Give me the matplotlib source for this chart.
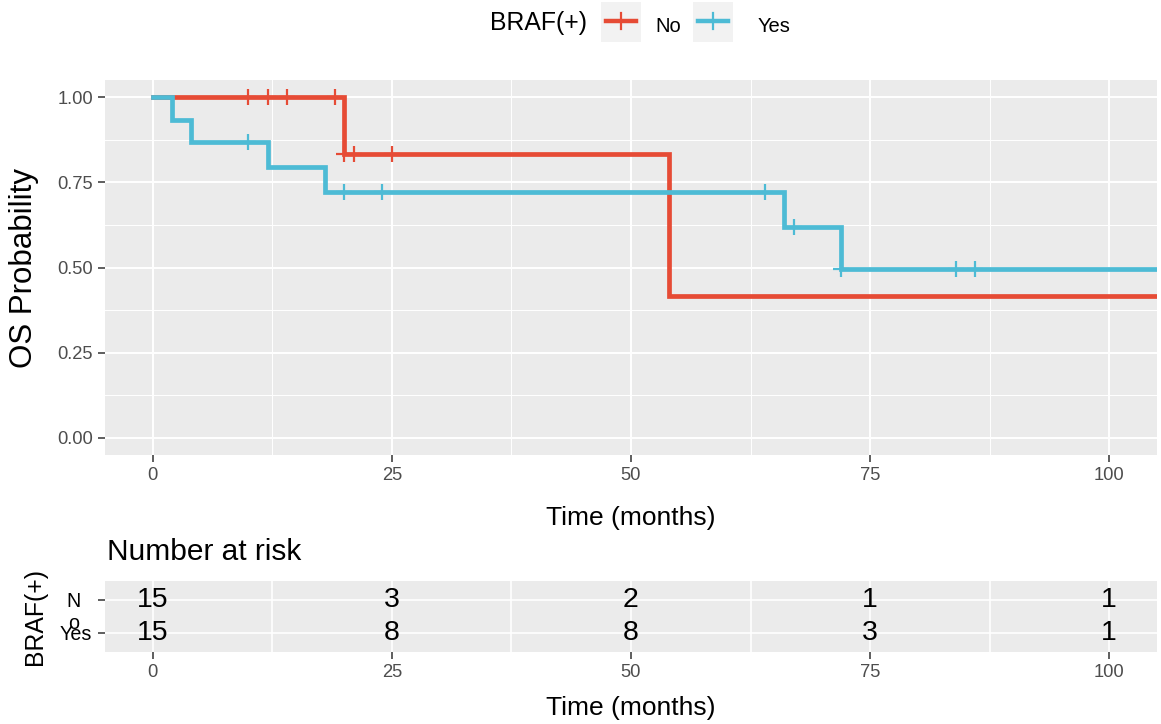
import matplotlib
matplotlib.use("Agg")
import matplotlib.pyplot as plt
from matplotlib.patches import Rectangle
from matplotlib.lines import Line2D

plt.rcParams['font.family'] = ['Liberation Sans', 'DejaVu Sans']

# ---------------- data ----------------
groups = ["No", "Yes"]
colors = ["#E64B35", "#4DBBD5"]

no_time = [0, 20, 54, 105]
no_surv = [1.0, 0.833, 0.417, 0.417]
no_cens_time = [10, 12, 14, 19, 20, 21, 25]
no_cens_surv = [1.0, 1.0, 1.0, 1.0, 0.833, 0.833, 0.833]

yes_time = [0, 2, 4, 12, 18, 66, 72, 105]
yes_surv = [1.0, 0.933, 0.867, 0.794, 0.722, 0.619, 0.495, 0.495]
yes_cens_time = [10, 20, 24, 64, 67, 72, 84, 86]
yes_cens_surv = [0.867, 0.722, 0.722, 0.722, 0.619, 0.495, 0.495, 0.495]

risk_times = [0, 25, 50, 75, 100]
risk_no = [15, 3, 2, 1, 1]
risk_yes = [15, 8, 8, 3, 1]

x_ticks = [0, 25, 50, 75, 100]
x_minor = [12.5, 37.5, 62.5, 87.5]
y_ticks = [0.0, 0.25, 0.5, 0.75, 1.0]
y_tick_labels = ["0.00", "0.25", "0.50", "0.75", "1.00"]
y_minor = [0.125, 0.375, 0.625, 0.875]

# ---------------- figure ----------------
W, H = 1161, 724
fig = plt.figure(figsize=(W / 100, H / 100), dpi=100)

def px_axes(l, t, r, b):
    return fig.add_axes([l / W, 1 - b / H, (r - l) / W, (b - t) / H])

PANEL = "#EBEBEB"
TICKC = "#333333"
LABC = "#4D4D4D"

def style(ax):
    ax.set_facecolor(PANEL)
    for s in ax.spines.values():
        s.set_visible(False)
    ax.tick_params(axis='both', which='major', length=5, width=1.1, color=TICKC,
                   labelcolor=LABC, labelsize=13.2, pad=3.5)
    ax.tick_params(axis='both', which='minor', length=0)
    ax.set_axisbelow(True)

# ---- main KM plot ----
ax = px_axes(105, 80, 1157, 455)
style(ax)
ax.set_xlim(-5, 105)
ax.set_ylim(-0.05, 1.05)
ax.set_xticks(x_ticks)
ax.set_xticks(x_minor, minor=True)
ax.set_yticks(y_ticks)
ax.set_yticklabels(y_tick_labels)
ax.set_yticks(y_minor, minor=True)
ax.grid(True, which='major', color='white', lw=1.4)
ax.grid(True, which='minor', color='white', lw=0.7)

ax.step(no_time, no_surv, where='post', color=colors[0], lw=3.4, solid_joinstyle='miter', zorder=3)
ax.plot(no_cens_time, no_cens_surv, ls='none', marker='+', ms=11, mew=1.6, color=colors[0], zorder=3)
ax.step(yes_time, yes_surv, where='post', color=colors[1], lw=3.4, solid_joinstyle='miter', zorder=4)
ax.plot(yes_cens_time, yes_cens_surv, ls='none', marker='+', ms=11, mew=1.6, color=colors[1], zorder=4)

ax.set_xlabel("Time (months)", fontsize=19, color='black', labelpad=16)
ax.set_ylabel("OS Probability", fontsize=22.5, color='black', labelpad=13)

# ---- risk table ----
rx = px_axes(105, 581, 1157, 652)
style(rx)
rx.set_xlim(-5, 105)
rx.set_ylim(0.4, 2.6)
rx.set_xticks(x_ticks)
rx.set_xticks(x_minor, minor=True)
rx.set_yticks([1, 2])
rx.set_yticklabels(["Yes", ""])
rx.tick_params(axis='y', labelsize=14.2, labelcolor='black', pad=4.5)
rx.grid(True, which='major', color='white', lw=1.2)
rx.grid(True, which='minor', axis='x', color='white', lw=1.2)
rx.annotate("N\no", xy=(-8.3, 2), xycoords='data', xytext=(0, -6.5),
            textcoords='offset points', ha='center', va='center_baseline',
            fontsize=14.2, linespacing=1.15, color='black', annotation_clip=False)
for t, n in zip(risk_times, risk_no):
    rx.text(t, 2, str(n), ha='center', va='center', fontsize=20.5, color='black')
for t, n in zip(risk_times, risk_yes):
    rx.text(t, 1, str(n), ha='center', va='center', fontsize=20.5, color='black')
rx.set_xlabel("Time (months)", fontsize=19, color='black', labelpad=11)
rx.set_ylabel("BRAF(+)", fontsize=17.8, color='black', labelpad=9)
fig.text(107 / W, 1 - 560 / H, "Number at risk", fontsize=21.5, ha='left', va='baseline')

# ---- legend (manual, ggplot style) ----
lg = px_axes(480, 0, 800, 50)
lg.set_xlim(480, 800)
lg.set_ylim(50, 0)
lg.axis('off')
lg.text(490, 23, "BRAF(+)", fontsize=17.8, ha='left', va='center')
key_left = [601, 693]
text_left = [655, 758]
for g, c, kl, tl in zip(groups, colors, key_left, text_left):
    lg.add_patch(Rectangle((kl, 2), 40, 40, facecolor="#F2F2F2", edgecolor='none'))
    lg.add_line(Line2D([kl + 5, kl + 35], [21, 21], color=c, lw=3.2))
    lg.add_line(Line2D([kl + 20, kl + 20], [13, 29], color=c, lw=1.6))
    lg.text(tl, 27, g, fontsize=14.5, ha='left', va='center')

fig.savefig("out.png", dpi=100)
